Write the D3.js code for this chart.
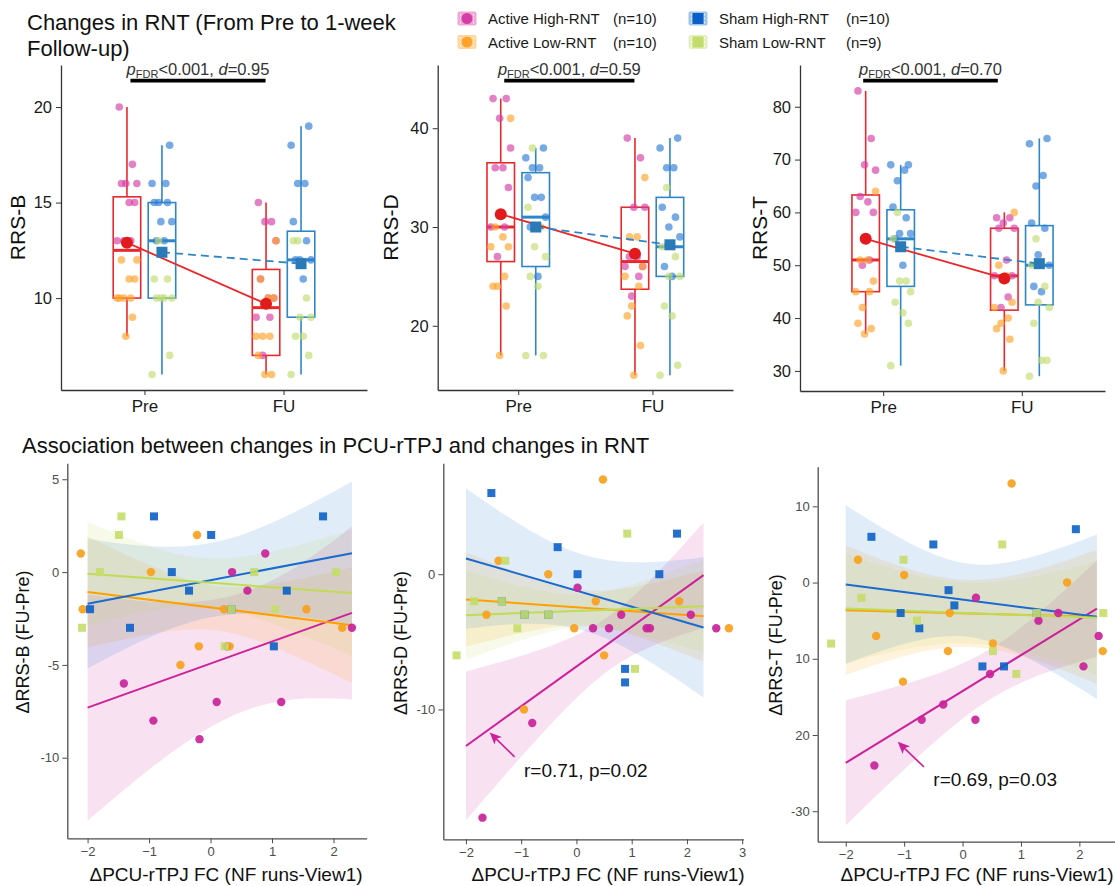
<!DOCTYPE html>
<html>
<head>
<meta charset="utf-8">
<script src="https://cdn.jsdelivr.net/npm/d3@7"></script>
<style>
  body { margin: 0; background: #fff; }
  svg { font-family: "Liberation Sans", Arial, sans-serif; }
</style>
</head>
<body>
<div id="vis"></div>
<script>
//-- Data
var groups = ["Active High-RNT", "Active Low-RNT", "Sham High-RNT", "Sham Low-RNT"];
var groupN = ["(n=10)", "(n=10)", "(n=10)", "(n=9)"];
var times = ["Pre", "FU"];

// top row: scores per group [Active High, Active Low, Sham High, Sham Low]
var rrsB_pre = [[20,17,16,16,16,15,15,13,13,13], [12,12,11,11,10,10,10,10,9,8],
                [18,16,16,15,15,15,14,14,13,13], [13,11,11,10,10,10,10,7,6]];
var rrsB_fu  = [[15,14,14,13,11,10,10,9,9,7], [13,11,10,10,8,8,8,7,6,6],
                [19,18,16,16,14,13,12,12,12,11], [13,13,10,9,9,8,8,7,6]];
var rrsD_pre = [[43,43,41,38,36,36,34,30,30,27], [41,30,29,28,28,25,24,24,22,17],
                [38,37,36,36,35,33,33,31,30,25], [38,32,30,28,27,25,24,17,17]];
var rrsD_fu  = [[39,37,32,32,27,27,26,26,25,23], [35,29,29,26,25,24,22,21,18,15],
                [39,38,36,36,32,31,30,29,26,25], [34,28,27,25,25,22,21,16,15]];
var rrsT_pre = [[83,74,69,68,63,62,60,60,51,50], [64,51,51,47,45,45,42,39,38,37],
                [69,69,68,66,61,59,56,56,55,50], [60,55,47,47,45,43,41,39,31]];
var rrsT_fu  = [[59,59,58,57,57,51,48,48,44,42], [60,50,48,43,42,40,39,38,36,30],
                [74,73,67,65,58,57,52,50,46,45], [55,50,46,43,42,39,32,32,29]];

// box stats [min, q1, median, q3, max, mean] : Pre-Active, Pre-Sham, FU-Active, FU-Sham
var rrsB_box = [[8,10,12.5,15.3,20,12.9], [6,10,13,15,18,12.4], [6,7,9.5,11.5,15,9.7], [6,9,12,13.5,19,11.8]];
var rrsD_box = [[17,26.5,30,36.5,43,31.3], [17,26,31,35.5,38,30], [15,23.7,26.5,32,39,27.3], [15,25,28,33,39,28.2]];
var rrsT_box = [[37,45,51,63.3,83,55], [31,46,55,60.5,69,53.5], [30,41.5,48,57,60,47.5], [29,42.5,50,57.5,74,50.3]];

var topLabels = ["RRS-B", "RRS-D", "RRS-T"];
var topTicks = [[10,15,20], [20,30,40], [30,40,50,60,70,80]];
var effectD = ["0.95", "0.59", "0.70"];

// bottom row: [dPCU-rTPJ FC, dRRS] per group
var scatB = [
  [[0.89,1],[0.35,0],[0.6,-1],[2.3,-3],[0.27,-4],[-1.41,-6],[0.1,-7],[1.15,-7],[-0.93,-8],[-0.18,-9]],
  [[-2.11,1],[-0.22,2],[-0.97,0],[-2.08,-2],[0.22,-2],[1.56,-2],[2.14,-3],[-0.19,-4],[0.31,-4],[-0.49,-5]],
  [[-0.92,3],[0.01,2],[1.83,3],[-0.63,0],[-0.35,-1],[1.24,-1],[-1.96,-2],[0.34,-2],[-1.31,-3],[1.03,-4]],
  [[-1.45,3],[-1.49,2],[-1.8,0],[0.71,0],[2.04,0],[-2.09,-3],[1.05,-2],[0.23,-4],[0.34,-2]]
];
var scatD = [
  [[0.02,-1],[0.3,-4],[0.59,-4],[0.81,-3],[1.27,-4],[1.33,-4],[2.07,-3],[2.53,-4],[-0.8,-11],[-1.7,-18]],
  [[0.48,7],[-1.41,1],[-0.51,0],[0.35,-2],[1.86,-2],[-1.63,-3],[-0.04,-4],[2.76,-4],[0.5,-6],[-0.95,-10]],
  [[-1.54,6],[-0.34,2],[1.82,3],[0.02,0],[1.5,0],[-1.35,-2],[-0.94,-3],[-0.51,-3],[0.88,-7],[0.88,-8]],
  [[0.92,3],[-1.29,1],[-1.85,-2],[-1.07,-4],[-2.17,-6],[1.06,-7],[-1.35,-2],[-0.94,-3],[-0.51,-3]]
];
var scatT = [
  [[0.23,-2],[1.64,-4],[1.3,-5],[2.33,-7],[2.07,-11],[0.47,-12],[-0.33,-16],[-0.7,-18],[0.22,-18],[-1.51,-24]],
  [[0.84,13],[-1.79,3],[-1.0,1],[1.79,0],[-0.22,-4],[-1.48,-7],[0.52,-8],[-0.25,-9],[2.4,-9],[-1.02,-13]],
  [[-1.56,6],[-0.5,5],[1.94,7],[-0.24,-1],[-0.14,-3],[-1.06,-4],[-0.74,-6],[1.27,-4],[0.34,-11],[0.71,-11]],
  [[0.68,5],[-1.01,3],[-1.73,-2],[-0.78,-5],[-2.25,-8],[0.52,-9],[0.92,-12],[2.41,-4],[1.27,-4]]
];
// fitted lines: [y at x=-2, y at x=2.3, x of narrowest CI, CI half-width there, CI half-width at x=-2]
var fitB = [[-7.3,-2.2,0.6,3.2,6.1], [-1.07,-2.86,0.1,1.2,3.0], [-1.7,1.02,0.0,2.0,3.5], [-0.09,-1.13,-0.1,1.3,2.8]];
var fitD = [[-12.7,-0.07,0.6,2.0,5.5], [-1.87,-3.1,0.2,1.3,3.5], [1.16,-3.94,0.15,2.8,5.2], [-3.03,-2.36,0.1,1.2,3.3]];
var fitT = [[-23.65,-3.41,0.5,3.3,8.2], [-3.63,-4.5,0.1,4.4,8.5], [-0.26,-4.5,0.1,4.8,10.4], [-3.41,-4.63,0.1,4.0,7.2]];
var fitRange = [-2, 2.3];

var bottomLabels = ["\u0394RRS-B (FU-Pre)", "\u0394RRS-D (FU-Pre)", "\u0394RRS-T (FU-Pre)"];
var bottomYTicks = [[5,0,-5,-10], [0,-10], [10,0,-10,-20,-30]];
var bottomYTickText = [["5","0","-5","-10"], ["0","-10"], ["10","0","10","20","-30"]];
var bottomXTicks = [[-2,-1,0,1,2], [-2,-1,0,1,2,3], [-2,-1,0,1,2]];
var corrText = [null, "r=0.71, p=0.02", "r=0.69, p=0.03"];
var corrAnchor = [null, [-0.95,-15.0], [-0.5,-26.7]];
var corrArrow = [null, [-1.12,-13.5,-1.57,-11.7], [-0.66,-24.2,-1.11,-20.9]];

//-- Styles
var colTop = ["#d63da5", "#ffa32b", "#2e7dd6", "#c2dc72"];
var colBot = ["#c9239a", "#f7a11c", "#0b60c8", "#c4dd6a"];
var colLine = ["#cc2299", "#ffa000", "#1a6ad0", "#bfdc55"];
var boxRed = "#e8282c", boxBlue = "#2f86c6";
var jit = [-0.7, 0.5, -0.1, 0.9, -0.5, 0.2, 0.7, -0.9, 0.35, -0.3];

var width = 1115, height = 886;
var svg = d3.select("#vis").append("svg")
  .attr("width", width).attr("height", height)
  .attr("viewBox", [0, 0, width, height]);

//-- Titles and legend
svg.append("text").attr("x", 27).attr("y", 30).style("font-size", "22px").attr("fill", "#111")
  .text("Changes in RNT (From Pre to 1-week");
svg.append("text").attr("x", 27).attr("y", 56).style("font-size", "22px").attr("fill", "#111")
  .text("Follow-up)");
svg.append("text").attr("x", 22).attr("y", 453).style("font-size", "22px").attr("fill", "#111")
  .text("Association between changes in PCU-rTPJ and changes in RNT");

var legPos = [[467, 18.5], [467, 42], [698, 18.5], [698, 42]];
var nX = [613, 613, 846, 846];
groups.forEach(function (name, i) {
  var lg = svg.append("g").attr("transform", "translate(" + legPos[i][0] + "," + legPos[i][1] + ")");
  lg.append("rect").attr("x", -9.5).attr("y", -7).attr("width", 19).attr("height", 14)
    .attr("rx", 2).attr("fill", colTop[i]).attr("opacity", 0.45);
  if (i < 2) {
    lg.append("circle").attr("r", 5.5).attr("fill", colTop[i]);
  } else {
    lg.append("rect").attr("x", -5.5).attr("y", -5.5).attr("width", 11).attr("height", 11).attr("fill", colBot[i]);
  }
  lg.append("line").attr("x1", -6.5).attr("x2", -6.5).attr("y1", -5).attr("y2", 5)
    .attr("stroke", "#fff").attr("stroke-dasharray", "2,2").attr("opacity", 0.8);
  lg.append("line").attr("x1", 6.5).attr("x2", 6.5).attr("y1", -5).attr("y2", 5)
    .attr("stroke", "#fff").attr("stroke-dasharray", "2,2").attr("opacity", 0.8);
  svg.append("text").attr("x", legPos[i][0] + 21).attr("y", legPos[i][1] + 5.5)
    .style("font-size", "15px").attr("fill", "#1a1a1a").text(name);
  svg.append("text").attr("x", nX[i]).attr("y", legPos[i][1] + 5.5)
    .style("font-size", "15px").attr("fill", "#1a1a1a").text(groupN[i]);
});

//-- Top row: box plots
var topLayout = [
  { x0: 61, x1: 367, y0: 65, y1: 390, dom: [5.19, 22.2], lab: 25, bar: [-14, -18] },
  { x0: 437.7, x1: 733, y0: 65, y1: 390, dom: [13.5, 46.4], lab: 398, bar: [-14, -18] },
  { x0: 800, x1: 1105, y0: 65, y1: 391, dom: [26.2, 87.9], lab: 767, bar: [-20, -24] }
];
var topData = [[rrsB_pre, rrsB_fu, rrsB_box], [rrsD_pre, rrsD_fu, rrsD_box], [rrsT_pre, rrsT_fu, rrsT_box]];

function styleAxis(sel, col, size) {
  sel.select(".domain").attr("stroke", col).attr("stroke-width", 1.3);
  sel.selectAll(".tick line").attr("stroke", col);
  sel.selectAll(".tick text").attr("fill", col).style("font-size", size)
    .style("font-family", "'Liberation Sans', Arial, sans-serif");
}

topLayout.forEach(function (L, p) {
  var pre = topData[p][0], fu = topData[p][1], box = topData[p][2];
  var g = svg.append("g");
  var x = d3.scalePoint().domain(times).range([L.x0, L.x1]).padding(0.6);
  var y = d3.scaleLinear().domain(L.dom).range([L.y1, L.y0]);
  var dodge = 17.5, bw = 27.5;

  g.append("g").attr("transform", "translate(" + L.x0 + ",0)")
    .call(d3.axisLeft(y).tickValues(topTicks[p]).tickSizeInner(5).tickSizeOuter(0).tickPadding(4))
    .call(styleAxis, "#333", "16.5px");
  g.append("g").attr("transform", "translate(0," + L.y1 + ")")
    .call(d3.axisBottom(x).tickSizeInner(5).tickSizeOuter(0).tickPadding(5))
    .call(styleAxis, "#333", "17px");
  g.selectAll(".tick text").attr("fill", "#1a1a1a");

  g.append("text").attr("transform", "translate(" + L.lab + "," + ((L.y0 + L.y1) / 2) + ") rotate(-90)")
    .attr("text-anchor", "middle").style("font-size", "21px").attr("fill", "#111").text(topLabels[p]);

  // boxes
  var keys = [["Pre", -1], ["Pre", 1], ["FU", -1], ["FU", 1]];
  box.forEach(function (b, k) {
    var cx = x(keys[k][0]) + keys[k][1] * dodge;
    var col = keys[k][1] < 0 ? boxRed : boxBlue;
    g.append("line").attr("x1", cx).attr("x2", cx).attr("y1", y(b[0])).attr("y2", y(b[1]))
      .attr("stroke", col).attr("stroke-width", 1.6);
    g.append("line").attr("x1", cx).attr("x2", cx).attr("y1", y(b[3])).attr("y2", y(b[4]))
      .attr("stroke", col).attr("stroke-width", 1.6);
    g.append("rect").attr("x", cx - bw / 2).attr("y", y(b[3])).attr("width", bw)
      .attr("height", y(b[1]) - y(b[3])).attr("fill", "none").attr("stroke", col).attr("stroke-width", 1.6);
    g.append("line").attr("x1", cx - bw / 2).attr("x2", cx + bw / 2).attr("y1", y(b[2])).attr("y2", y(b[2]))
      .attr("stroke", col).attr("stroke-width", 3);
  });

  // jittered points
  [pre, fu].forEach(function (vals, t) {
    vals.forEach(function (arr, gi) {
      var side = gi < 2 ? -1 : 1;
      g.selectAll(null).data(arr).enter().append("circle")
        .attr("cx", function (d, j) { return x(times[t]) + side * dodge + jit[(j + gi * 3) % 10] * 11; })
        .attr("cy", function (d) { return y(d); })
        .attr("r", 3.8)
        .attr("fill", colTop[gi])
        .attr("opacity", 0.65);
    });
  });

  // group means
  var aPre = [x("Pre") - dodge, y(box[0][5])], aFu = [x("FU") - dodge, y(box[2][5])];
  var sPre = [x("Pre") + dodge, y(box[1][5])], sFu = [x("FU") + dodge, y(box[3][5])];
  g.append("path").attr("d", d3.line()([aPre, aFu])).attr("stroke", boxRed).attr("stroke-width", 1.8).attr("fill", "none");
  g.append("path").attr("d", d3.line()([sPre, sFu])).attr("stroke", boxBlue).attr("stroke-width", 1.8)
    .attr("stroke-dasharray", "8,5").attr("fill", "none");
  [aPre, aFu].forEach(function (c) {
    g.append("circle").attr("cx", c[0]).attr("cy", c[1]).attr("r", 6).attr("fill", "#e31a1c");
  });
  [sPre, sFu].forEach(function (c) {
    g.append("rect").attr("x", c[0] - 5.5).attr("y", c[1] - 5.5).attr("width", 11).attr("height", 11).attr("fill", "#2a7ab8");
  });

  // significance bar
  var bx0 = x("Pre") + L.bar[0], bx1 = x("FU") + L.bar[1];
  g.append("line").attr("x1", bx0).attr("x2", bx1).attr("y1", 80.7).attr("y2", 80.7)
    .attr("stroke", "#000").attr("stroke-width", 3.7);
  var st = g.append("text").attr("x", (bx0 + bx1) / 2).attr("y", 75).attr("text-anchor", "middle")
    .style("font-size", "16.5px").attr("fill", "#333");
  st.append("tspan").style("font-style", "italic").text("p");
  st.append("tspan").attr("dy", 3).style("font-size", "11px").text("FDR");
  st.append("tspan").attr("dy", -3).text("<0.001, ");
  st.append("tspan").style("font-style", "italic").text("d");
  st.append("tspan").text("=" + effectD[p]);
});

//-- Bottom row: scatter with regression fits
var botLayout = [
  { x0: 67.3, x1: 366.7, y0: 463.3, y1: 838.3, xdom: [-2.33, 2.54], ydom: [-14.34, 5.86], lab: 29, xlab: 226, ylabY: 642 },
  { x0: 443.3, x1: 743.3, y0: 463.3, y1: 839.3, xdom: [-2.41, 3.02], ydom: [-19.6, 8.2], lab: 407, xlab: 608, ylabY: 643 },
  { x0: 817.7, x1: 1115, y0: 466.7, y1: 841.7, xdom: [-2.48, 2.61], ydom: [-34.0, 15.2], lab: 782, xlab: 977, ylabY: 645 }
];
var botData = [[scatB, fitB], [scatD, fitD], [scatT, fitT]];

botLayout.forEach(function (L, p) {
  var scat = botData[p][0], fit = botData[p][1];
  var g = svg.append("g");
  var x = d3.scaleLinear().domain(L.xdom).range([L.x0, L.x1]);
  var y = d3.scaleLinear().domain(L.ydom).range([L.y1, L.y0]);

  g.append("g").attr("transform", "translate(" + L.x0 + ",0)")
    .call(d3.axisLeft(y).tickValues(bottomYTicks[p]).tickFormat(function (d, i) { return bottomYTickText[p][i]; })
      .tickSizeInner(5).tickSizeOuter(0).tickPadding(3))
    .call(styleAxis, "#4d4d4d", "13px");
  g.append("g").attr("transform", "translate(0," + L.y1 + ")")
    .call(d3.axisBottom(x).tickValues(bottomXTicks[p]).tickFormat(d3.format("d"))
      .tickSizeInner(5).tickSizeOuter(0).tickPadding(3))
    .call(styleAxis, "#4d4d4d", "13px");

  g.append("text").attr("transform", "translate(" + L.lab + "," + L.ylabY + ") rotate(-90)")
    .attr("text-anchor", "middle").style("font-size", "18px").attr("fill", "#111").text(bottomLabels[p]);
  g.append("text").attr("x", L.xlab).attr("y", 881).attr("text-anchor", "middle")
    .style("font-size", "19px").attr("fill", "#111").text("\u0394PCU-rTPJ FC (NF runs-View1)");

  // confidence bands and fit lines
  var steps = d3.range(0, 41).map(function (k) { return fitRange[0] + (fitRange[1] - fitRange[0]) * k / 40; });
  fit.forEach(function (f, gi) {
    var lineAt = function (v) { return f[0] + (f[1] - f[0]) * (v - fitRange[0]) / (fitRange[1] - fitRange[0]); };
    var b2 = (f[4] * f[4] - f[3] * f[3]) / Math.pow(f[2] - fitRange[0], 2);
    var hw = function (v) { return Math.sqrt(f[3] * f[3] + b2 * (v - f[2]) * (v - f[2])); };
    g.append("path").datum(steps)
      .attr("d", d3.area()
        .x(function (v) { return x(v); })
        .y0(function (v) { return y(lineAt(v) - hw(v)); })
        .y1(function (v) { return y(lineAt(v) + hw(v)); }))
      .attr("fill", colLine[gi]).attr("opacity", 0.13);
  });
  fit.forEach(function (f, gi) {
    g.append("path").datum(fitRange)
      .attr("d", d3.line().x(function (v) { return x(v); })
        .y(function (v, i) { return y(f[i]); }))
      .attr("stroke", colLine[gi]).attr("stroke-width", 2).attr("fill", "none");
  });

  // points
  scat.forEach(function (arr, gi) {
    if (gi < 2) {
      g.selectAll(null).data(arr).enter().append("circle")
        .attr("cx", function (d) { return x(d[0]); })
        .attr("cy", function (d) { return y(d[1]); })
        .attr("r", 4.2).attr("fill", colBot[gi]).attr("opacity", 0.92);
    } else {
      g.selectAll(null).data(arr).enter().append("rect")
        .attr("x", function (d) { return x(d[0]) - 4; })
        .attr("y", function (d) { return y(d[1]) - 4; })
        .attr("width", 8).attr("height", 8).attr("fill", colBot[gi]).attr("opacity", 0.9);
    }
  });

  // correlation annotation
  if (corrText[p]) {
    var a = corrArrow[p];
    var x1 = x(a[0]), y1 = y(a[1]), x2 = x(a[2]), y2 = y(a[3]);
    var ang = Math.atan2(y2 - y1, x2 - x1), hl = 13;
    g.append("line").attr("x1", x1).attr("y1", y1)
      .attr("x2", x2 - Math.cos(ang) * 8).attr("y2", y2 - Math.sin(ang) * 8)
      .attr("stroke", colLine[0]).attr("stroke-width", 1.7);
    g.append("path").attr("d", d3.line()([
        [x2, y2],
        [x2 - hl * Math.cos(ang - 0.42), y2 - hl * Math.sin(ang - 0.42)],
        [x2 - hl * 0.7 * Math.cos(ang), y2 - hl * 0.7 * Math.sin(ang)],
        [x2 - hl * Math.cos(ang + 0.42), y2 - hl * Math.sin(ang + 0.42)]
      ]) + "Z").attr("fill", colLine[0]);
    g.append("text").attr("x", x(corrAnchor[p][0])).attr("y", y(corrAnchor[p][1]))
      .style("font-size", "19px").attr("fill", "#111").text(corrText[p]);
  }
});
</script>
</body>
</html>
